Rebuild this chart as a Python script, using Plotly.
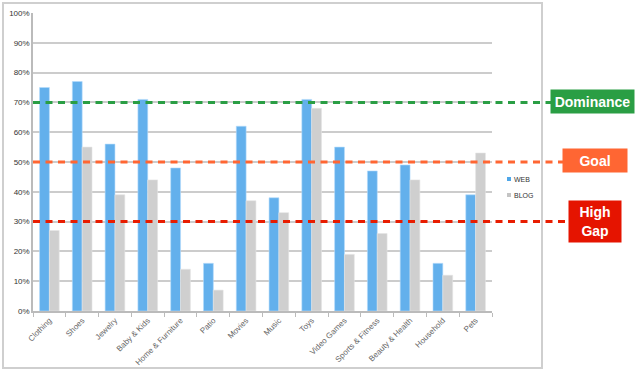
import plotly.graph_objects as go

categories = ["Clothing", "Shoes", "Jewelry", "Baby & Kids", "Home & Furniture", "Patio",
              "Movies", "Music", "Toys", "Video Games", "Sports & Fitness",
              "Beauty & Health", "Household", "Pets"]
web = [75, 77, 56, 71, 48, 16, 62, 38, 71, 55, 47, 49, 16, 39]
blog = [27, 55, 39, 44, 14, 7, 37, 33, 68, 19, 26, 44, 12, 53]
series_names = ["WEB", "BLOG"]
series_colors = ["#63b0ec", "#cfcfcf"]
series_lines = ["#b5dcfb", "#e4e4e4"]
legend_colors = ["#4fa6e8", "#c4c4c4"]
ref_values = [70, 50, 30]
ref_labels = ["Dominance", "Goal", "High<br>Gap"]
ref_colors = ["#2a9e44", "#ff6633", "#e51400"]
line_colors = ["#2a9e44", "#ff6633", "#e81c00"]

W, H = 642, 373
L, R, T, B = 33, 492, 13, 311

def px_x(p):
    return (p - L) / (R - L)

def px_y(p):
    return (B - p) / (B - T)

fig = go.Figure()
for name, vals, c, lc in zip(series_names, [web, blog], series_colors, series_lines):
    fig.add_trace(go.Bar(x=categories, y=vals, name=name, showlegend=False,
                         marker=dict(color=c, line=dict(color=lc, width=0.6))))

shapes = []
shapes.append(dict(type="rect", xref="paper", yref="paper",
                   x0=px_x(3), x1=px_x(542), y0=px_y(368), y1=px_y(3),
                   line=dict(color="#cfcfcf", width=2), layer="below"))
annotations = []
boxes = [(551, 634, 90, 113), (563, 627, 149, 172), (569, 621, 201, 242)]
for v, lab, c, lc, bx in zip(ref_values, ref_labels, ref_colors, line_colors, boxes):
    x0, x1, y0, y1 = bx
    shapes.append(dict(type="line", xref="paper", yref="y",
                       x0=0, x1=px_x(x0 + 1), y0=v, y1=v,
                       line=dict(color=lc, width=3, dash="7px,5.5px"), layer="above"))
    annotations.append(dict(xref="paper", yref="paper",
                            x=px_x((x0 + x1) / 2), y=px_y((y0 + y1) / 2),
                            xanchor="center", yanchor="middle", showarrow=False,
                            text="<b>" + lab + "</b>", align="center",
                            font=dict(family="Liberation Sans, Arial", size=14, color="white"),
                            bgcolor=c, width=x1 - x0, height=y1 - y0, borderpad=0))

# manual legend
for i, (name, c) in enumerate(zip(series_names, legend_colors)):
    yc = 179 + 16 * i
    shapes.append(dict(type="rect", xref="paper", yref="paper",
                       x0=px_x(507), x1=px_x(511), y0=px_y(yc + 2), y1=px_y(yc - 2),
                       fillcolor=c, line=dict(width=0)))
    annotations.append(dict(xref="paper", yref="paper", x=px_x(512), y=px_y(yc),
                            xanchor="left", yanchor="middle", showarrow=False,
                            text=name, font=dict(family="Liberation Sans, Arial",
                                                 size=7, color="#333")))

fig.update_layout(
    width=W, height=H,
    margin=dict(l=L, r=W - R, t=T, b=H - B, autoexpand=False),
    paper_bgcolor="white", plot_bgcolor="white",
    barmode="group", bargap=0.4, bargroupgap=0,
    shapes=shapes, annotations=annotations,
    showlegend=False,
    font=dict(family="Liberation Sans, Arial"),
)
fig.update_yaxes(range=[0, 100], dtick=10, ticksuffix="%",
                 showgrid=True, gridcolor="#cccccc", gridwidth=1.5,
                 showline=True, linecolor="#bbbbbb", linewidth=1.5,
                 tickfont=dict(size=8, color="#333"), zeroline=False,
                 ticks="", fixedrange=True, automargin=False)
fig.update_xaxes(tickangle=-45, tickfont=dict(size=8, color="#666"),
                 showline=True, linecolor="#bbbbbb", linewidth=1.5,
                 ticks="outside", tickson="boundaries", ticklen=4, tickcolor="#bbbbbb",
                 showgrid=False, automargin=False, fixedrange=True)

fig.write_html("out.html", config={"displayModeBar": False, "staticPlot": False})
with open("out.html", encoding="utf-8") as f:
    html = f.read()
html = html.replace("<body>", '<body style="margin:0;padding:0;overflow:hidden">', 1)
with open("out.html", "w", encoding="utf-8") as f:
    f.write(html)
